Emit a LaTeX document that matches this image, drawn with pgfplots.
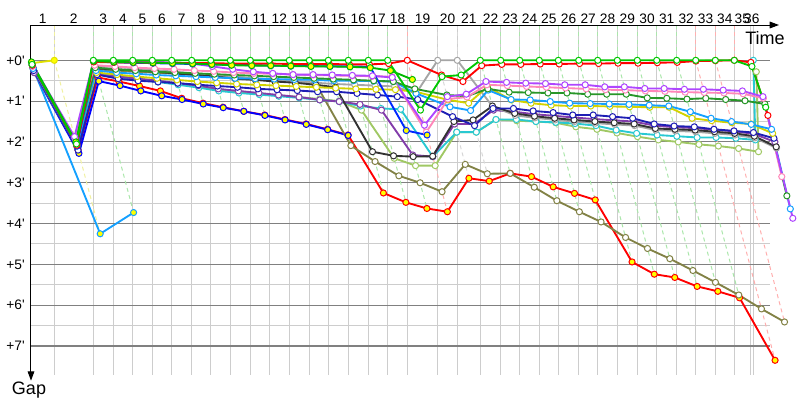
\documentclass[border=0pt]{standalone}
\usepackage{fontspec}
\setmainfont{Liberation Sans}
\usepackage{pgfplots}
\usepackage{pgfplotstable}
\pgfplotsset{compat=1.18}
\usetikzlibrary{arrows.meta}

\definecolor{cGRN}{RGB}{0,200,0}
\definecolor{cRED}{RGB}{255,0,0}
\definecolor{cG2Y}{RGB}{0,185,0}
\definecolor{cB2Y}{RGB}{0,40,255}
\definecolor{cPUR}{RGB}{175,70,255}
\definecolor{cPNK}{RGB}{255,135,185}
\definecolor{cFGR}{RGB}{40,150,40}
\definecolor{cLBL}{RGB}{20,160,255}
\definecolor{cYEL}{RGB}{210,210,0}
\definecolor{cNAV}{RGB}{30,30,180}
\definecolor{cBLK}{RGB}{50,50,50}
\definecolor{cGRY}{RGB}{165,165,165}
\definecolor{cPRD}{RGB}{130,60,170}
\definecolor{cTEA}{RGB}{40,200,210}
\definecolor{cYGR}{RGB}{160,200,100}
\definecolor{cOLV}{RGB}{130,130,70}
\definecolor{cBLY}{RGB}{0,0,255}
\definecolor{cY0}{RGB}{225,225,0}
\definecolor{cCBY}{RGB}{20,160,255}
\definecolor{mkY}{RGB}{255,255,0}
\definecolor{gridL}{RGB}{205,205,205}
\definecolor{gridD}{RGB}{128,128,128}
\definecolor{dG}{RGB}{170,230,170}
\definecolor{dR}{RGB}{255,175,175}
\definecolor{dK}{RGB}{215,215,215}
\definecolor{dY}{RGB}{240,240,160}

% t = leader's time at lap end (chart units), columns = gap in minutes
\pgfplotstableread{
t GRN RED G2Y B2Y PUR PNK FGR LBL YEL NAV BLK GRY PRD TEA YGR OLV RDY BLY Y0 CBY
31 0.10 0.12 0.04 0.12 0.08 0.15 0.12 0.20 0.15 0.25 0.20 0.18 0.30 0.28 0.30 0.22 0.25 0.30 0.07 0.20
54.3 2.05 2.08 2.00 2.10 1.87 1.90 2.05 2.10 2.05 2.20 2.12 2.05 2.15 2.15 2.10 2.10 2.20 2.28 0 4.25
93.3 0 0.04 0.02 0.03 0.02 0.12 0.18 0.25 0.30 0.35 0.20 0.15 0.35 0.33 0.33 0.22 0.42 0.51 nan 3.73
113.3 0 0.05 0.04 0.05 0.02 0.15 0.22 0.30 0.35 0.45 0.22 0.16 0.40 0.40 0.38 0.25 0.52 0.62 nan nan
132.7 0 0.05 0.05 0.06 0.03 0.18 0.25 0.33 0.40 0.50 0.25 0.20 0.45 0.47 0.45 0.28 0.63 0.75 nan nan
152.3 0 0.06 0.06 0.07 0.04 0.20 0.28 0.36 0.44 0.53 0.28 0.24 0.50 0.53 0.50 0.30 0.75 0.87 nan nan
171.7 0 0.06 0.07 0.08 0.05 0.22 0.30 0.38 0.48 0.56 0.32 0.28 0.56 0.60 0.57 0.33 0.93 0.96 nan nan
191.7 0 0.07 0.08 0.09 0.08 0.25 0.32 0.40 0.52 0.60 0.36 0.32 0.62 0.67 0.65 0.36 1.05 1.07 nan nan
210.7 0 0.07 0.10 0.10 0.15 0.27 0.34 0.42 0.55 0.63 0.40 0.36 0.70 0.75 0.73 0.40 1.15 1.16 nan nan
230.3 0 0.08 0.12 0.11 0.22 0.30 0.36 0.44 0.58 0.66 0.45 0.40 0.75 0.80 0.78 0.43 1.25 1.25 nan nan
250.3 0 0.08 0.13 0.12 0.28 0.32 0.38 0.45 0.60 0.70 0.48 0.44 0.80 0.84 0.82 0.46 1.34 1.35 nan nan
269.3 0 0.08 0.13 0.13 0.32 0.33 0.40 0.46 0.62 0.72 0.52 0.48 0.85 0.88 0.86 0.50 1.45 1.46 nan nan
289.3 0 0.09 0.14 0.14 0.35 0.35 0.42 0.47 0.64 0.74 0.55 0.52 0.90 0.92 0.90 0.52 1.56 1.57 nan nan
309.3 0 0.09 0.15 0.14 0.35 0.36 0.44 0.48 0.66 0.77 0.60 0.55 0.97 0.97 0.95 0.55 1.69 1.70 nan nan
328.3 0 0.09 0.15 0.15 0.36 0.37 0.46 0.50 0.68 0.77 0.66 0.58 1.01 1.01 1.00 2.09 1.83 1.84 nan nan
348.3 0 0.10 0.16 0.15 0.37 0.38 0.48 0.50 0.70 0.81 2.24 0.60 1.08 1.12 1.22 2.48 3.25 nan nan nan
368.3 0 0.10 0.18 0.16 0.38 0.39 0.50 0.51 0.71 0.85 2.34 0.62 1.22 1.18 2.40 2.83 3.48 nan nan nan
387.7 0 0.08 0.25 1.72 0.42 0.40 0.52 0.52 0.72 0.89 2.36 0.64 2.32 1.20 2.58 3.00 3.63 nan nan nan
407.3 1.22 0 0.47 1.83 1.59 1.76 0.70 0.81 0.77 0.96 2.35 0.81 2.36 2.36 2.58 3.22 3.71 nan nan nan
437.7 0.40 0.36 nan nan 0.89 0.95 0.85 1.14 0.97 1.38 1.50 0 1.56 1.76 1.76 2.55 2.89 nan nan nan
457.3 0.36 0.52 nan nan 0.83 0.90 0.88 1.23 1.05 1.60 1.46 0 1.56 1.76 1.76 2.78 2.96 nan nan nan
480.3 0 0.13 nan nan 0.52 0.60 0.70 0.73 0.65 1.18 1.12 1.13 1.22 1.45 1.45 2.77 2.77 nan nan nan
500.7 0 0.10 nan nan 0.54 0.62 0.78 0.96 0.97 1.18 1.30 1.35 1.26 1.45 1.48 3.11 2.85 nan nan nan
519.7 0 0.10 nan nan 0.56 0.64 0.79 0.97 1.05 1.24 1.37 1.41 1.32 1.50 1.50 3.44 3.10 nan nan nan
539.3 0 0.09 nan nan 0.57 0.66 0.80 1.01 1.10 1.28 1.42 1.46 1.36 1.52 1.53 3.71 3.26 nan nan nan
558.3 0 0.09 nan nan 0.60 0.68 0.80 1.05 1.12 1.34 1.46 1.50 1.40 1.55 1.63 3.96 3.42 nan nan nan
578.7 0 0.08 nan nan 0.60 0.70 0.83 1.06 1.12 1.34 1.50 1.54 1.44 1.60 1.69 4.34 4.94 nan nan nan
597.7 0 0.08 nan nan 0.65 0.72 0.83 1.07 1.13 1.38 1.53 1.57 1.47 1.71 1.78 4.61 5.24 nan nan nan
617.3 0 0.07 nan nan 0.65 0.73 0.83 1.08 1.14 1.42 1.56 1.60 1.50 1.79 1.87 4.86 5.32 nan nan nan
637.3 0 0.07 nan nan 0.69 0.75 0.92 1.10 1.15 1.56 1.67 1.71 1.60 1.83 1.95 5.15 5.54 nan nan nan
656.7 0 0.06 nan nan 0.69 0.76 0.93 1.12 1.15 1.61 1.69 1.73 1.64 1.86 2.00 5.44 5.66 nan nan nan
676.7 0 0.05 nan nan 0.71 0.78 0.95 1.26 1.42 1.63 1.71 1.75 1.66 1.89 2.06 5.75 5.82 nan nan nan
695.7 0 0.02 nan nan 0.71 0.79 0.93 1.42 1.48 1.69 1.75 1.79 1.70 1.89 2.10 6.09 7.35 nan nan nan
715.3 0 0.01 nan nan 0.73 0.80 0.96 1.50 1.53 1.73 1.79 1.83 1.74 1.91 2.16 6.41 nan nan nan nan
734.3 0 0 nan nan 0.75 0.82 0.99 1.57 1.56 1.77 1.86 1.90 1.80 1.95 2.24 nan nan nan nan nan
750.3 0.15 0.05 nan nan nan nan nan nan nan nan nan nan nan nan nan nan nan nan nan nan
753.3 1.15 1.35 nan nan 0.89 0.93 1.07 1.69 1.79 1.91 2.12 2.15 2.00 0 0.28 nan nan nan nan nan
751.0 nan nan nan nan 3.87 2.85 3.32 3.64 nan nan nan nan nan nan nan nan nan nan nan nan
}\laps

% pale lapping lines (leader's crossing -> car's crossing)
\pgfplotstableread{
t g
93.3 0
93.3 3.73
nan nan
113.3 0
113.3 0.62
nan nan
132.7 0
132.7 0.75
nan nan
152.3 0
152.3 0.87
nan nan
171.7 0
171.7 0.96
nan nan
191.7 0
191.7 1.07
nan nan
210.7 0
210.7 1.16
nan nan
230.3 0
230.3 1.25
nan nan
250.3 0
250.3 1.35
nan nan
269.3 0
269.3 1.46
nan nan
289.3 0
289.3 1.57
nan nan
309.3 0
309.3 1.70
nan nan
328.3 0
328.3 1.84
nan nan
328.3 0
328.3 2.09
nan nan
348.3 0
348.3 3.25
nan nan
348.3 0
348.3 2.48
nan nan
368.3 0
368.3 3.48
nan nan
368.3 0
368.3 2.83
nan nan
387.7 0
387.7 3.63
nan nan
387.7 0
387.7 3.00
nan nan
480.3 0
480.3 2.77
nan nan
500.7 0
500.7 2.85
nan nan
500.7 0
500.7 3.11
nan nan
519.7 0
519.7 3.10
nan nan
519.7 0
519.7 3.44
nan nan
539.3 0
539.3 3.26
nan nan
539.3 0
539.3 3.71
nan nan
558.3 0
558.3 3.42
nan nan
558.3 0
558.3 3.96
nan nan
578.7 0
578.7 4.94
nan nan
578.7 0
578.7 4.34
nan nan
597.7 0
597.7 5.24
nan nan
597.7 0
597.7 4.61
nan nan
617.3 0
617.3 5.32
nan nan
617.3 0
617.3 4.86
nan nan
637.3 0
637.3 5.54
nan nan
637.3 0
637.3 5.15
nan nan
656.7 0
656.7 5.66
nan nan
656.7 0
656.7 5.44
nan nan
676.7 0
676.7 5.82
nan nan
676.7 0
676.7 5.75
}\dgreen
\pgfplotstableread{
t g
407.3 0
407.3 3.71
nan nan
407.3 0
407.3 3.22
nan nan
695.7 0
695.7 7.35
nan nan
695.7 0
695.7 6.09
nan nan
715.3 0
715.3 6.41
}\dred
\pgfplotstableread{
t g
437.7 0
437.7 2.89
nan nan
437.7 0
437.7 2.55
nan nan
457.3 0
457.3 2.96
nan nan
457.3 0
457.3 2.78
}\dgray
\pgfplotstableread{
t g
54.3 0
54.3 4.25
}\dyel

\newcommand\drv[3]{%
  \addplot[draw=#2, line width=1.4pt, mark=*, mark size=2.3pt,
    mark options={fill=#3, draw=#2, line width=0.75pt, solid}]
    table[x expr={\thisrow{t}+10.8*\thisrow{#1}}, y=#1]{\laps};}
\newcommand\lapline[2]{%
  \addplot[draw=#2, line width=0.75pt, dash pattern=on 3pt off 2.5pt, unbounded coords=jump]
    table[x expr={\thisrow{t}+10.8*\thisrow{g}}, y=g]{#1};}

\begin{document}
\begin{tikzpicture}
\useasboundingbox (0,0) rectangle (600pt,300pt);
\begin{axis}[
  at={(23.25pt,18.75pt)}, anchor=south west, scale only axis,
  width=576.75pt, height=262.5pt,
  xmin=31, xmax=800, ymin=-0.865, ymax=7.71, y dir=reverse,
  axis line style={draw=none}, major tick length=0pt, minor tick length=0pt,
  clip=false,
  xtick={42.65,73.8,103.3,123,142.5,162,181.7,201.2,220.5,240.3,259.8,279.3,299.3,318.8,338.3,358.3,378,397.5,422.5,447.5,468.8,490.5,510.2,529.5,548.8,568.5,588.2,607.5,627.3,647,666.7,686.2,705.5,724.8,742.3,751.8},
  xticklabels={1,2,3,4,5,6,7,8,9,10,11,12,13,14,15,16,17,18,19,20,21,22,23,24,25,26,27,28,29,30,31,32,33,34,35,36},
  xticklabel pos=upper,
  xticklabel style={font=\fontsize{10.3}{12}\selectfont, anchor=south, inner sep=0pt, yshift=1pt},
  ytick={0,1,2,3,4,5,6,7},
  yticklabels={+0\textquotesingle,+1\textquotesingle,+2\textquotesingle,+3\textquotesingle,+4\textquotesingle,+5\textquotesingle,+6\textquotesingle,+7\textquotesingle},
  yticklabel style={font=\fontsize{10.3}{12}\selectfont, anchor=east, inner sep=0pt, xshift=-4.5pt},
  extra x ticks={54.3,93.3,113.3,132.7,152.3,171.7,191.7,210.7,230.3,250.3,269.3,289.3,309.3,328.3,348.3,368.3,387.7,407.3,437.7,457.3,480.3,500.7,519.7,539.3,558.3,578.7,597.7,617.3,637.3,656.7,676.7,695.7,715.3,734.3,750.3,753.3},
  extra x tick labels={},
  extra x tick style={grid=major, major grid style={draw=gridL, line width=0.75pt}},
]
% horizontal grid
\pgfplotsinvokeforeach{0.5,1.5,2.5,3.5,4.5,5.5,6.5}{
  \addplot[draw=gridL, line width=0.75pt, forget plot] coordinates {(31,#1) (770,#1)};}
\pgfplotsinvokeforeach{0,1,2,3,4,5,6,7}{
  \addplot[draw=gridD, line width=0.8pt, forget plot] coordinates {(31,#1) (770,#1)};}
% leader marks above the zero line
\addplot[draw=dG, line width=0.75pt, dash pattern=on 3pt off 2.5pt, unbounded coords=jump] coordinates {
 (93.3,-0.865) (93.3,0) (nan,nan) (113.3,-0.865) (113.3,0) (nan,nan) (132.7,-0.865) (132.7,0) (nan,nan)
 (152.3,-0.865) (152.3,0) (nan,nan) (171.7,-0.865) (171.7,0) (nan,nan) (191.7,-0.865) (191.7,0) (nan,nan)
 (210.7,-0.865) (210.7,0) (nan,nan) (230.3,-0.865) (230.3,0) (nan,nan) (250.3,-0.865) (250.3,0) (nan,nan)
 (269.3,-0.865) (269.3,0) (nan,nan) (289.3,-0.865) (289.3,0) (nan,nan) (309.3,-0.865) (309.3,0) (nan,nan)
 (328.3,-0.865) (328.3,0) (nan,nan) (348.3,-0.865) (348.3,0) (nan,nan) (368.3,-0.865) (368.3,0) (nan,nan)
 (387.7,-0.865) (387.7,0) (nan,nan) (480.3,-0.865) (480.3,0) (nan,nan) (500.7,-0.865) (500.7,0) (nan,nan)
 (519.7,-0.865) (519.7,0) (nan,nan) (539.3,-0.865) (539.3,0) (nan,nan) (558.3,-0.865) (558.3,0) (nan,nan)
 (578.7,-0.865) (578.7,0) (nan,nan) (597.7,-0.865) (597.7,0) (nan,nan) (617.3,-0.865) (617.3,0) (nan,nan)
 (637.3,-0.865) (637.3,0) (nan,nan) (656.7,-0.865) (656.7,0) (nan,nan) (676.7,-0.865) (676.7,0)};
\addplot[draw=dR, line width=0.75pt, dash pattern=on 3pt off 2.5pt, unbounded coords=jump] coordinates {
 (407.3,-0.865) (407.3,0) (nan,nan) (695.7,-0.865) (695.7,0) (nan,nan) (715.3,-0.865) (715.3,0) (nan,nan) (734.3,-0.865) (734.3,0)};
\addplot[draw=dK, line width=0.75pt, dash pattern=on 3pt off 2.5pt, unbounded coords=jump] coordinates {
 (437.7,-0.865) (437.7,0) (nan,nan) (457.3,-0.865) (457.3,0)};
\addplot[draw=dY, line width=0.75pt, dash pattern=on 3pt off 2.5pt] coordinates {(54.3,-0.865) (54.3,0)};
\lapline{\dgreen}{dG}
\lapline{\dred}{dR}
\lapline{\dgray}{dK}
\lapline{\dyel}{dY}
% drivers
\drv{CBY}{cCBY}{mkY}
\drv{Y0}{cY0}{mkY}
\drv{RDY}{cRED}{mkY}
\drv{BLY}{cBLY}{mkY}
\drv{OLV}{cOLV}{white}
\drv{YGR}{cYGR}{white}
\drv{TEA}{cTEA}{white}
\drv{PRD}{cPRD}{white}
\drv{GRY}{cGRY}{white}
\drv{BLK}{cBLK}{white}
\drv{NAV}{cNAV}{white}
\drv{YEL}{cYEL}{white}
\drv{LBL}{cLBL}{white}
\drv{FGR}{cFGR}{white}
\drv{PNK}{cPNK}{white}
\drv{PUR}{cPUR}{white}
\drv{B2Y}{cB2Y}{mkY}
\drv{RED}{cRED}{white}
\drv{G2Y}{cG2Y}{mkY}
\drv{GRN}{cGRN}{white}
% axes
\draw[black, line width=0.75pt, -{Triangle[length=7pt,width=5pt]}] (axis cs:31,-0.865) -- (axis cs:779,-0.865);
\draw[black, line width=0.75pt, -{Triangle[length=7pt,width=5pt]}] (axis cs:31,-0.865) -- (axis cs:31,7.85);
\node[font=\fontsize{13.5}{16}\selectfont, anchor=center] at (axis cs:765,-0.55) {Time};
\node[font=\fontsize{13.5}{16}\selectfont, anchor=center] at (axis cs:29,8.08) {Gap};
\end{axis}
\end{tikzpicture}
\end{document}
